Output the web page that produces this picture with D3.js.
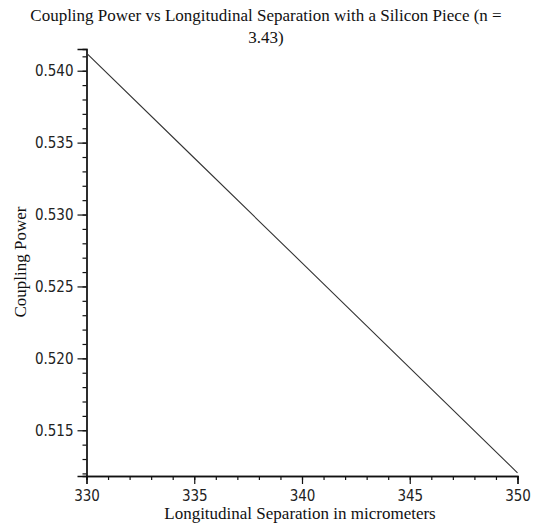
<!DOCTYPE html>
<html>
<head>
<meta charset="utf-8">
<script src="https://cdn.jsdelivr.net/npm/d3@7"></script>
<style>
  body { margin: 0; background: #fff; }
  svg { display: block; }
  .title, .axis-label { font-family: "Liberation Serif", "Times New Roman", serif; font-size: 17px; fill: #111; }
  .tick-label { font-family: "DejaVu Sans Condensed", "DejaVu Sans", sans-serif; font-stretch: condensed; font-size: 15px; fill: #222; }
</style>
</head>
<body>
<div id="chart"></div>
<script>
// separation (micrometers) and coupling power
const separation = [330, 335, 340, 345, 350];
const couplingPower = [0.54123, 0.53393, 0.52664, 0.51934, 0.51204];

const xTicks = [330, 335, 340, 345, 350];
const yTicks = [0.515, 0.520, 0.525, 0.530, 0.535, 0.540];
const titleLines = ['Coupling Power vs Longitudinal Separation with a Silicon Piece (n =', '3.43)'];

const width = 534;
const height = 528;

const svg = d3.select('#chart')
    .append('svg')
    .attr('width', width)
    .attr('height', height);

const x = d3.scaleLinear()
    .domain([330, 350])
    .range([86.5, 517.5]);

const y = d3.scaleLinear()
    .domain([0.51182, 0.54151])
    .range([476, 49]);

// title
svg.append('text')
    .attr('class', 'title')
    .attr('text-anchor', 'middle')
    .selectAll('tspan')
    .data(titleLines)
    .enter()
    .append('tspan')
    .attr('x', 266)
    .attr('y', (d, i) => 21 + i * 22)
    .text(d => d);

// minor ticks
const xAxisMinor = d3.axisBottom(x)
    .tickValues(d3.range(330, 351, 1))
    .tickSize(4)
    .tickFormat('');
const yAxisMinor = d3.axisLeft(y)
    .tickValues(d3.range(0.512, 0.5415, 0.001))
    .tickSize(4)
    .tickFormat('');

const xAxis = d3.axisBottom(x)
    .tickValues(xTicks)
    .tickSize(8)
    .tickPadding(6)
    .tickFormat(d3.format('d'));
const yAxis = d3.axisLeft(y)
    .tickValues(yTicks)
    .tickSize(9)
    .tickPadding(4)
    .tickFormat(d3.format('.3f'));

const gx = svg.append('g').attr('transform', `translate(0, ${y.range()[0]})`);
gx.call(xAxisMinor);
gx.append('g').call(xAxis);

const gy = svg.append('g').attr('transform', `translate(${x.range()[0]}, 0)`);
gy.call(yAxisMinor);
gy.append('g').call(yAxis);

svg.selectAll('.domain').attr('stroke', '#111').attr('stroke-width', 1.3);
svg.selectAll('.tick line').attr('stroke', '#111').attr('stroke-width', 1.2);
svg.selectAll('.tick text')
    .attr('class', 'tick-label')
    .attr('font-family', null)
    .attr('font-size', null);

// data line
const line = d3.line()
    .x((d, i) => x(separation[i]))
    .y(d => y(d));

svg.append('path')
    .datum(couplingPower)
    .attr('d', line)
    .attr('fill', 'none')
    .attr('stroke', '#333')
    .attr('stroke-width', 1.1);

// axis labels
svg.append('text')
    .attr('class', 'axis-label')
    .attr('text-anchor', 'middle')
    .attr('x', 300)
    .attr('y', 519)
    .text('Longitudinal Separation in micrometers');

svg.append('text')
    .attr('class', 'axis-label')
    .attr('text-anchor', 'middle')
    .attr('transform', 'translate(26, 262) rotate(-90)')
    .text('Coupling Power');
</script>
</body>
</html>
